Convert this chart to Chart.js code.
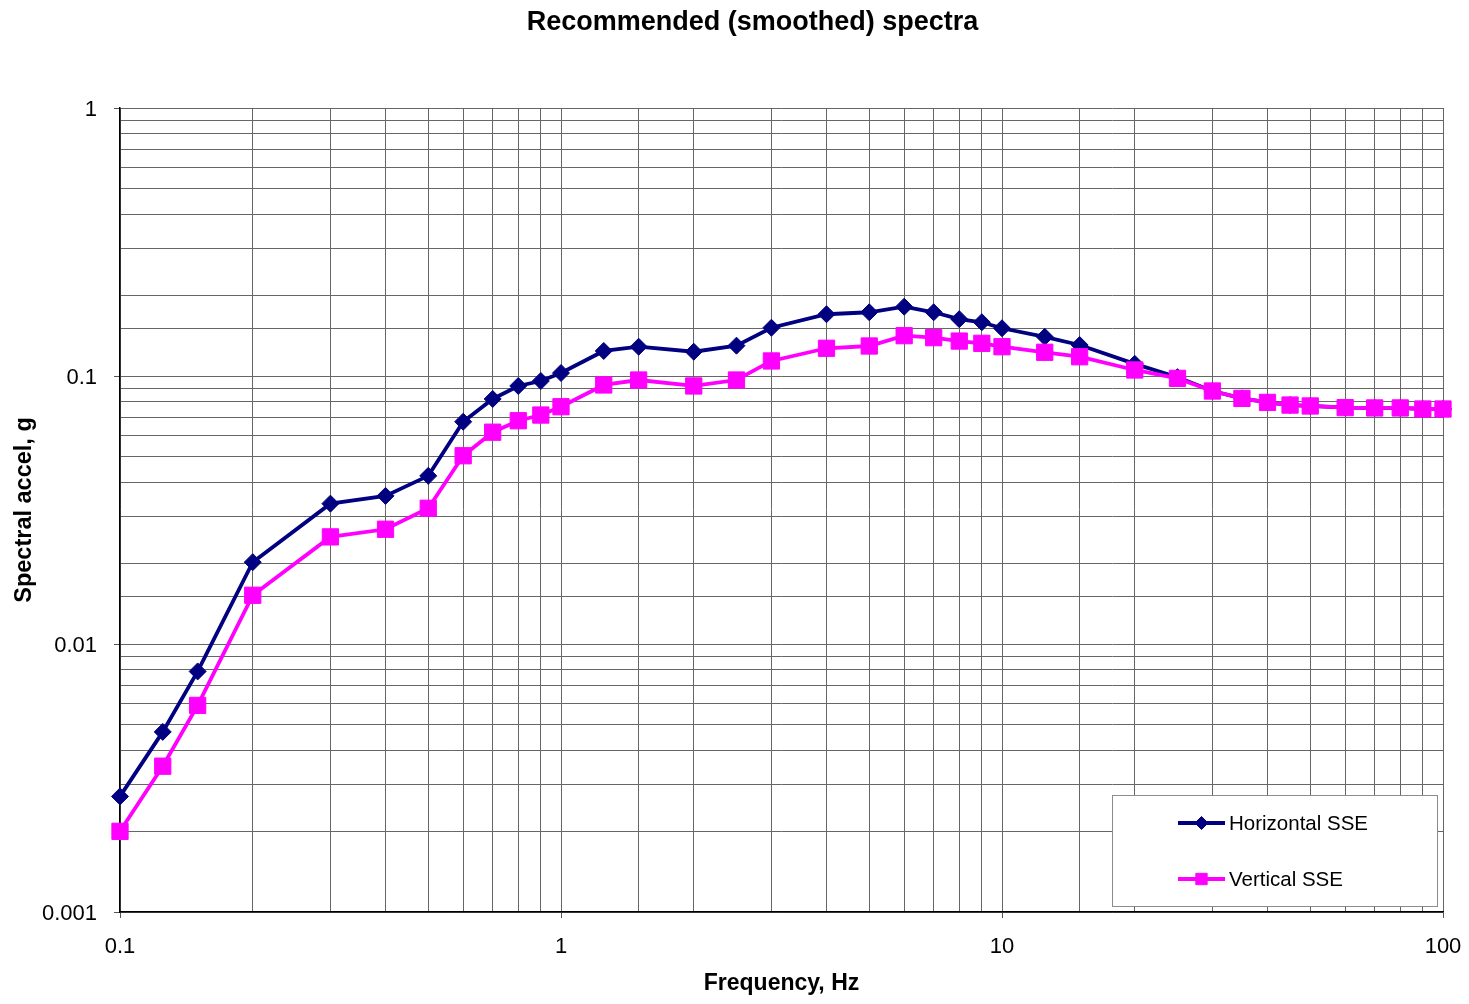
<!DOCTYPE html>
<html>
<head>
<meta charset="utf-8">
<title>Recommended (smoothed) spectra</title>
<script src="https://cdn.jsdelivr.net/npm/chart.js@4.4.1/dist/chart.umd.min.js"></script>
<style>
  html, body { margin: 0; padding: 0; background: #ffffff; }
  #wrap { width: 1469px; height: 1004px; }
</style>
</head>
<body>
<div id="wrap"><canvas id="chart" width="1469" height="1004"></canvas></div>
<script>
// Frequencies (Hz) at which the smoothed spectra are defined
const frequencies = [0.1, 0.125, 0.15, 0.2, 0.3, 0.4, 0.5, 0.6, 0.7, 0.8, 0.9,
  1, 1.25, 1.5, 2, 2.5, 3, 4, 5, 6, 7, 8, 9, 10,
  12.5, 15, 20, 25, 30, 35, 40, 45, 50, 60, 70, 80, 90, 100];

// Spectral acceleration (g), horizontal SSE
const horizontalSSE = [0.0027, 0.0047, 0.0079, 0.0202, 0.0334, 0.0357, 0.0424, 0.0675, 0.0821, 0.0918, 0.0958,
  0.1026, 0.124, 0.1286, 0.1232, 0.1298, 0.1514, 0.170, 0.1729, 0.1814, 0.1729, 0.163, 0.1587, 0.1507,
  0.140, 0.1305, 0.111, 0.099, 0.0879, 0.0825, 0.0797, 0.0779, 0.0773, 0.0762, 0.076, 0.076, 0.0753, 0.0753];

// Spectral acceleration (g), vertical SSE
const verticalSSE = [0.002, 0.0035, 0.0059, 0.0152, 0.0251, 0.0268, 0.0321, 0.0504, 0.0617, 0.0681, 0.0715,
  0.0768, 0.0926, 0.0966, 0.0918, 0.0966, 0.1138, 0.1269, 0.1294, 0.1414, 0.139, 0.135, 0.1324, 0.1286,
  0.1226, 0.118, 0.1053, 0.098, 0.0879, 0.0825, 0.0797, 0.0779, 0.0773, 0.0762, 0.076, 0.076, 0.0753, 0.0753];

const seriesNames = ['Horizontal SSE', 'Vertical SSE'];
const xTickLabels = ['0.1', '1', '10', '100'];
const yTickLabels = ['0.001', '0.01', '0.1', '1'];

const FONT = '"Liberation Sans", Arial, Helvetica, sans-serif';

function isDecade(v) {
  const l = Math.log10(v);
  return Math.abs(l - Math.round(l)) < 1e-9;
}
function decadeLabel(v, labels) {
  if (!isDecade(v)) return '';
  const hit = labels.find(s => Math.abs(parseFloat(s) - v) < v * 1e-9);
  return hit === undefined ? '' : hit;
}
const toPoints = ys => frequencies.map((f, i) => ({ x: f, y: ys[i] }));

// Title sits a little left of the plot-area centre
const titleShift = {
  id: 'titleShift',
  afterLayout(chart) {
    const tb = chart.titleBlock;
    if (!tb) return;
    const target = (chart.chartArea.left + chart.chartArea.right) / 2 - 29;
    const d = target - (tb.left + tb.right) / 2;
    tb.left += d;
    tb.right += d;
  }
};

// Boxed legend drawn in the lower-right corner of the plot area
const boxedLegend = {
  id: 'boxedLegend',
  afterDatasetsDraw(chart) {
    const { ctx, chartArea } = chart;
    const w = 326, h = 112;
    const x0 = chartArea.right - 5 - w;
    const y0 = chartArea.bottom - 5 - h;
    ctx.save();
    ctx.fillStyle = '#ffffff';
    ctx.fillRect(x0, y0, w, h);
    ctx.strokeStyle = '#8c8c8c';
    ctx.lineWidth = 1;
    ctx.strokeRect(x0 + 0.5, y0 + 0.5, w - 1, h - 1);
    chart.data.datasets.forEach((ds, i) => {
      const cy = y0 + 28 + i * 56;
      const lx0 = x0 + 66, lx1 = x0 + 113;
      ctx.strokeStyle = ds.borderColor;
      ctx.lineWidth = ds.borderWidth;
      ctx.beginPath();
      ctx.moveTo(lx0, cy);
      ctx.lineTo(lx1, cy);
      ctx.stroke();
      ctx.fillStyle = ds.pointBackgroundColor;
      ctx.strokeStyle = ds.pointBorderColor;
      ctx.lineWidth = 1;
      Chart.helpers.drawPoint(ctx, {
        pointStyle: ds.pointStyle,
        rotation: 0,
        radius: i === 0 ? 6.5 : 8,
        borderWidth: 1
      }, (lx0 + lx1) / 2, cy);
      ctx.fillStyle = '#000000';
      ctx.font = '20.5px ' + FONT;
      ctx.textBaseline = 'middle';
      ctx.textAlign = 'left';
      ctx.fillText(ds.label, lx1 + 4, cy + 1);
    });
    ctx.restore();
  }
};

const gridColor = '#666666';
const tickMarkColor = ctx => (ctx.tick && isDecade(ctx.tick.value)) ? '#555555' : 'rgba(0,0,0,0)';

new Chart(document.getElementById('chart'), {
  type: 'line',
  data: {
    datasets: [
      {
        label: seriesNames[0],
        data: toPoints(horizontalSSE),
        borderColor: '#000080',
        backgroundColor: '#000080',
        pointBackgroundColor: '#000080',
        pointBorderColor: '#000080',
        borderWidth: 3.8,
        pointStyle: 'rectRot',
        pointRadius: 8.5,
        pointBorderWidth: 1,
        tension: 0,
        clip: false,
        order: 2
      },
      {
        label: seriesNames[1],
        data: toPoints(verticalSSE),
        borderColor: '#ff00ff',
        backgroundColor: '#ff00ff',
        pointBackgroundColor: '#ff00ff',
        pointBorderColor: '#ff00ff',
        borderWidth: 3.8,
        pointStyle: 'rect',
        pointRadius: 11.5,
        pointBorderWidth: 1,
        tension: 0,
        clip: false,
        order: 1
      }
    ]
  },
  options: {
    responsive: false,
    animation: false,
    devicePixelRatio: 1,
    layout: { padding: { left: 0, right: 26, top: 0, bottom: 0 } },
    plugins: {
      legend: { display: false },
      tooltip: { enabled: false },
      title: {
        display: true,
        text: 'Recommended (smoothed) spectra',
        color: '#000000',
        font: { family: FONT, size: 27, weight: 'bold', lineHeight: 1.2 },
        padding: { top: 6, bottom: 69.6 }
      }
    },
    scales: {
      x: {
        type: 'logarithmic',
        min: 0.1,
        max: 100,
        afterFit(scale) {
          scale.height = 92;
          scale.paddingLeft = 0;
          scale.paddingRight = 0;
        },
        border: { display: true, color: '#000000', width: 1.5 },
        grid: {
          color: gridColor,
          lineWidth: 1,
          drawTicks: true,
          tickLength: 6,
          tickColor: tickMarkColor
        },
        ticks: {
          autoSkip: false,
          maxRotation: 0,
          color: '#000000',
          padding: 16,
          font: { family: FONT, size: 22 },
          callback: v => decadeLabel(v, xTickLabels)
        },
        title: {
          display: true,
          text: 'Frequency, Hz',
          color: '#000000',
          font: { family: FONT, size: 23, weight: 'bold', lineHeight: 1.2 },
          padding: { top: 0, bottom: 7 }
        }
      },
      y: {
        type: 'logarithmic',
        min: 0.001,
        max: 1,
        afterFit(scale) {
          scale.width = 120;
          scale.paddingTop = 0;
          scale.paddingBottom = 0;
        },
        border: { display: true, color: '#000000', width: 1.5 },
        grid: {
          color: gridColor,
          lineWidth: 1,
          drawTicks: true,
          tickLength: 6,
          tickColor: tickMarkColor
        },
        ticks: {
          autoSkip: false,
          color: '#000000',
          padding: 17,
          labelOffset: 2,
          font: { family: FONT, size: 22 },
          callback: v => decadeLabel(v, yTickLabels)
        },
        title: {
          display: true,
          text: 'Spectral accel, g',
          color: '#000000',
          font: { family: FONT, size: 23.5, weight: 'bold', lineHeight: 1.2 },
          padding: { top: 10, bottom: 0 }
        }
      }
    }
  },
  plugins: [titleShift, boxedLegend]
});
</script>
</body>
</html>
